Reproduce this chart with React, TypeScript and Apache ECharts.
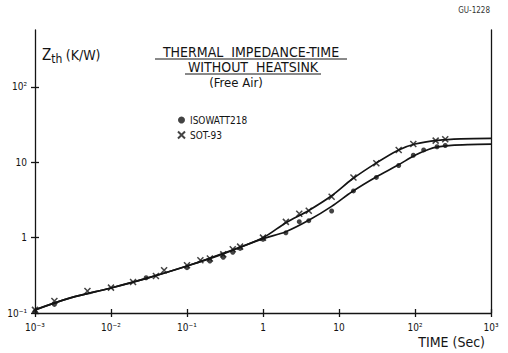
import React, { useEffect, useRef } from 'react';
import * as echarts from 'echarts';

const xTickLabels = ['10⁻³', '10⁻²', '10⁻¹', '1', '10', '10²', '10³'];
const yTickLabels = ['10⁻¹', '1', '10', '10²'];
const yTickValues = [0.1, 1, 10, 100];
const seriesNames = ['ISOWATT218', 'SOT-93'];

// fitted curves (time s, Zth K/W)
const sotCurve: [number, number][] = [
  [0.001, 0.11], [0.003, 0.16], [0.01, 0.215], [0.03, 0.29], [0.1, 0.42], [0.3, 0.62],
  [1, 1.0], [2, 1.58], [4, 2.3], [8, 3.6], [15, 6.0], [30, 9.6], [60, 14.5], [100, 17.5],
  [200, 19.6], [400, 20.5], [1000, 20.8],
];
const isoCurve: [number, number][] = [
  [0.001, 0.11], [0.003, 0.16], [0.01, 0.215], [0.03, 0.29], [0.1, 0.42], [0.3, 0.61],
  [1, 0.97], [2, 1.2], [4, 1.7], [8, 2.6], [15, 4.1], [30, 6.3], [60, 9.2], [100, 12.4],
  [150, 14.8], [200, 16.0], [300, 16.8], [500, 17.2], [1000, 17.4],
];
// measured points
const sotPoints: [number, number][] = [
  [0.001, 0.11], [0.0018, 0.144], [0.0049, 0.196], [0.01, 0.217], [0.0195, 0.258],
  [0.039, 0.31], [0.05, 0.369], [0.1, 0.43], [0.15, 0.5], [0.2, 0.53], [0.3, 0.6],
  [0.4, 0.7], [0.5, 0.76], [1, 1.0], [2, 1.62], [3, 2.07], [4, 2.28], [8, 3.5],
  [15.5, 6.3], [31, 9.7], [61, 14.6], [95, 17.5], [187, 19.4], [250, 20.2],
];
const isoPoints: [number, number][] = [
  [0.001, 0.105], [0.0018, 0.13], [0.029, 0.294], [0.1, 0.4], [0.2, 0.49], [0.3, 0.55],
  [0.4, 0.64], [0.5, 0.72], [1, 0.95], [2, 1.16], [3, 1.63], [4, 1.68], [8, 2.26],
  [15.5, 4.17], [31, 6.3], [61, 9.06], [95, 12.4], [130, 14.6], [195, 16.1], [250, 16.7],
];

const FONT = "'DejaVu Sans Condensed', 'Liberation Sans Narrow', 'DejaVu Sans', sans-serif";
const INK = '#141414';
const CROSS = 'path://M0,0L10,10M10,0L0,10';

const xFmt = (v: number) => {
  const i = Math.round(Math.log10(v)) + 3;
  return Math.abs(Math.log10(v) - (i - 3)) < 1e-6 ? xTickLabels[i] ?? '' : '';
};
const yFmt = (v: number) => {
  const i = yTickValues.findIndex((t) => Math.abs(t - v) / t < 1e-6);
  return i >= 0 ? yTickLabels[i] : '';
};

export default function App() {
  const ref = useRef<HTMLDivElement>(null);
  useEffect(() => {
    if (!ref.current) return;
    const chart = echarts.init(ref.current, undefined, { renderer: 'svg' });
    const line = { color: INK, width: 1.3 };
    const xBase = { type: 'log', logBase: 10, min: 0.001, max: 1000, gridIndex: 0, position: 'bottom', splitLine: { show: false } };
    const yBase = { type: 'log', logBase: 10, min: 0.1, max: 570, gridIndex: 0, splitLine: { show: false } };
    chart.setOption({
      animation: false,
      backgroundColor: '#fff',
      textStyle: { fontFamily: FONT, color: INK },
      grid: { left: 35, right: 17, top: 30, bottom: 40 },
      xAxis: [
        {
          ...xBase,
          axisLine: { show: true, onZero: false, lineStyle: line },
          axisTick: { show: true, length: 4, lineStyle: line },
          axisLabel: { show: true, formatter: xFmt, margin: 9, fontSize: 10, color: INK, fontFamily: FONT },
        },
        {
          ...xBase,
          axisLine: { show: false, onZero: false },
          axisTick: { show: true, inside: true, length: 4, lineStyle: line },
          axisLabel: { show: false },
        },
      ],
      yAxis: [
        {
          ...yBase,
          position: 'left',
          axisLine: { show: true, onZero: false, lineStyle: line },
          axisTick: { show: true, length: 4, lineStyle: line, customValues: yTickValues },
          axisLabel: { show: true, formatter: yFmt, margin: 8, fontSize: 10, color: INK, fontFamily: FONT, customValues: yTickValues },
        },
        {
          ...yBase,
          position: 'left',
          axisLine: { show: false, onZero: false },
          axisTick: { show: true, inside: true, length: 4, lineStyle: line, customValues: yTickValues },
          axisLabel: { show: false },
        },
        {
          ...yBase,
          position: 'right',
          axisLine: { show: true, onZero: false, lineStyle: line },
          axisTick: { show: false },
          axisLabel: { show: false },
        },
      ],
      legend: {
        orient: 'vertical',
        left: 177,
        top: 115,
        padding: 0,
        itemWidth: 7,
        itemHeight: 7,
        itemGap: 5,
        textStyle: { fontSize: 10, color: INK, fontFamily: FONT },
        data: seriesNames,
      },
      series: [
        {
          type: 'line', name: 'isoCurve', data: isoCurve, smooth: 0.35, showSymbol: false,
          lineStyle: { color: INK, width: 1.7 }, xAxisIndex: 0, yAxisIndex: 0, silent: true,
        },
        {
          type: 'line', name: 'sotCurve', data: sotCurve, smooth: 0.35, showSymbol: false,
          lineStyle: { color: INK, width: 1.7 }, xAxisIndex: 0, yAxisIndex: 0, silent: true,
        },
        {
          type: 'scatter', name: seriesNames[0], data: isoPoints, symbol: 'circle', symbolSize: 5,
          itemStyle: { color: INK }, xAxisIndex: 0, yAxisIndex: 0,
        },
        {
          type: 'scatter', name: seriesNames[1], data: sotPoints, symbol: CROSS, symbolSize: 6,
          itemStyle: { color: 'rgba(0,0,0,0)', borderColor: INK, borderWidth: 1.5 }, xAxisIndex: 0, yAxisIndex: 0,
        },
      ],
      graphic: [
        { type: 'text', left: 42, top: 47, style: {
          text: '{z|Z}{s|th} {u|(K/W)}', fontFamily: FONT, fill: INK,
          rich: {
            z: { fontSize: 15, fontFamily: FONT, fill: INK },
            s: { fontSize: 12, fontFamily: FONT, fill: INK, padding: [8, 0, 0, 0] },
            u: { fontSize: 14, fontFamily: FONT, fill: INK },
          },
        } },
        { type: 'text', x: 251, y: 52, style: { text: 'THERMAL  IMPEDANCE-TIME', fontSize: 14, fontFamily: FONT, fill: INK, align: 'center', verticalAlign: 'middle' } },
        { type: 'line', shape: { x1: 155, y1: 59, x2: 347, y2: 59 }, style: { stroke: INK, lineWidth: 1 } },
        { type: 'text', x: 253, y: 67, style: { text: 'WITHOUT  HEATSINK', fontSize: 14, fontFamily: FONT, fill: INK, align: 'center', verticalAlign: 'middle' } },
        { type: 'line', shape: { x1: 185, y1: 74, x2: 321, y2: 74 }, style: { stroke: INK, lineWidth: 1 } },
        { type: 'text', x: 236, y: 82, style: { text: '(Free Air)', fontSize: 13, fontFamily: FONT, fill: INK, align: 'center', verticalAlign: 'middle' } },
        { type: 'text', x: 485, y: 342, style: { text: 'TIME (Sec)', fontSize: 14, fontFamily: FONT, fill: INK, align: 'right', verticalAlign: 'middle' } },
        { type: 'text', x: 490, y: 10, style: { text: 'GU-1228', fontSize: 8, fontFamily: FONT, fill: '#333', align: 'right', verticalAlign: 'middle' } },
      ],
    });
    return () => chart.dispose();
  }, []);
  return <div ref={ref} style={{ width: 508, height: 353, position: 'absolute', left: 0, top: 0 }} />;
}
